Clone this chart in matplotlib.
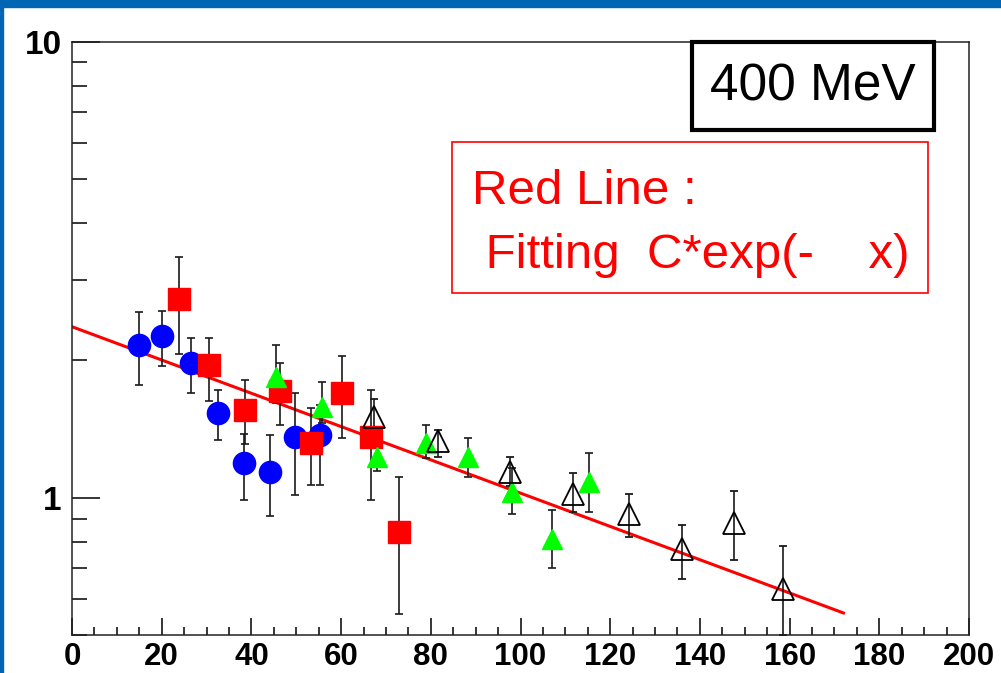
import matplotlib
matplotlib.use("Agg")
import matplotlib.pyplot as plt
import numpy as np
from matplotlib.patches import Rectangle
from matplotlib.ticker import FixedLocator, NullFormatter

plt.rcParams['font.family'] = ['Liberation Sans', 'DejaVu Sans']

# blue circles
blue_x = [15.0, 20.1, 26.5, 32.6, 38.4, 44.2, 49.7, 55.3]
blue_y = [2.16, 2.26, 1.97, 1.53, 1.19, 1.14, 1.36, 1.37]
blue_hi = [2.55, 2.56, 2.24, 1.72, 1.38, 1.37, 1.70, 1.60]
blue_lo = [1.77, 1.94, 1.70, 1.34, 0.99, 0.91, 1.015, 1.068]

# red squares
red_x = [23.9, 30.5, 38.6, 46.3, 53.4, 60.1, 66.6, 73.0]
red_y = [2.72, 1.95, 1.56, 1.71, 1.32, 1.70, 1.36, 0.84]
red_hi = [3.37, 2.24, 1.81, 1.97, 1.57, 2.04, 1.72, 1.11]
red_lo = [2.07, 1.63, 1.31, 1.44, 1.068, 1.35, 0.99, 0.556]

# green triangles
green_x = [45.4, 55.7, 67.9, 78.9, 88.4, 98.2, 107.1, 115.3]
green_y = [1.84, 1.58, 1.23, 1.32, 1.23, 1.03, 0.81, 1.08]
green_hi = [2.16, 1.79, 1.33, 1.44, 1.35, 1.16, 0.94, 1.25]
green_lo = [1.61, 1.46, 1.146, 1.22, 1.11, 0.92, 0.70, 0.93]

# open triangles
open_x = [67.4, 81.5, 97.7, 111.6, 124.1, 136.1, 147.6, 158.5]
open_y = [1.50, 1.33, 1.14, 1.02, 0.92, 0.77, 0.88, 0.63]
open_hi = [1.645, 1.41, 1.225, 1.13, 1.02, 0.87, 1.036, 0.785]
open_lo = [1.33, 1.23, 1.06, 0.93, 0.82, 0.665, 0.73, 0.50]

# fit C*exp(-a*x)
fit_C = 2.37
fit_a = 0.0084
fit_xmax = 172

x_ticks = [0, 20, 40, 60, 80, 100, 120, 140, 160, 180, 200]
y_major = [1, 10]
y_minor = [0.5, 0.6, 0.7, 0.8, 0.9, 2, 3, 4, 5, 6, 7, 8, 9]

fig = plt.figure(figsize=(10.01, 6.73), dpi=100)
fig.patch.set_facecolor('white')
ax = fig.add_axes([72 / 1001, 38 / 673, 897 / 1001, 593.5 / 673])

xf = np.linspace(0, fit_xmax, 100)
ax.plot(xf, fit_C * np.exp(-fit_a * xf), color='#ff0000', lw=2.2, zorder=1)

ekw = dict(ecolor='#1a1a1a', elinewidth=1.2, capsize=3, capthick=1.2, linestyle='none', zorder=3)


def err(y, lo, hi):
    y = np.array(y)
    return [y - np.array(lo), np.array(hi) - y]


ax.errorbar(blue_x, blue_y, yerr=err(blue_y, blue_lo, blue_hi), marker='o', ms=16,
            mfc='#0000ff', mec='#0000ff', **ekw)
ax.errorbar(red_x, red_y, yerr=err(red_y, red_lo, red_hi), marker='s', ms=16,
            mfc='#ff0000', mec='#ff0000', **ekw)
ax.errorbar(green_x, green_y, yerr=err(green_y, green_lo, green_hi), marker='^', ms=15,
            mfc='#00ff00', mec='#00ff00', **ekw)
ax.errorbar(open_x, open_y, yerr=err(open_y, open_lo, open_hi), marker='^', ms=16,
            mfc='none', mec='black', mew=1.3, **ekw)

ax.set_xlim(0, 200)
ax.set_yscale('log')
ax.set_ylim(0.5, 10)

ax.xaxis.set_major_locator(FixedLocator(x_ticks))
ax.xaxis.set_minor_locator(FixedLocator(np.arange(0, 201, 5)))
ax.set_xticklabels([str(t) for t in x_ticks])
ax.yaxis.set_major_locator(FixedLocator(y_major))
ax.yaxis.set_minor_locator(FixedLocator(y_minor))
ax.set_yticklabels([str(t) for t in y_major])
ax.yaxis.set_minor_formatter(NullFormatter())

ax.tick_params(axis='x', which='major', direction='in', length=12, width=1.1, pad=5,
               labelsize=22.5)
ax.tick_params(axis='x', which='minor', direction='in', length=6, width=1.1)
ax.tick_params(axis='y', which='major', direction='in', length=20, width=1.1, pad=7.5,
               labelsize=24)
ax.tick_params(axis='y', which='minor', direction='in', length=11, width=1.1)
for lbl in ax.get_xticklabels() + ax.get_yticklabels():
    lbl.set_fontweight('bold')
for s in ax.spines.values():
    s.set_linewidth(1.1)
    s.set_color('#222222')

# slide frame
fig.patches.append(Rectangle((0, 1 - 7 / 673), 1, 7 / 673, transform=fig.transFigure,
                             color='#0066b3', zorder=0))
fig.patches.append(Rectangle((0, 0), 3 / 1001, 1, transform=fig.transFigure,
                             color='#0066b3', zorder=0))

# 400 MeV box
fig.patches.append(Rectangle((692 / 1001, 1 - 130 / 673), 242 / 1001, 88 / 673,
                             transform=fig.transFigure, fill=False, ec='black', lw=3,
                             zorder=5))
fig.text(813 / 1001, 1 - 87 / 673, '400 MeV', fontsize=37, ha='center', va='center',
         color='black')

# red label box
fig.patches.append(Rectangle((452 / 1001, 1 - 292.5 / 673), 476 / 1001, 151 / 673,
                             transform=fig.transFigure, fill=False, ec='#ff0000', lw=1.2,
                             zorder=5))
fig.text(472 / 1001, 1 - 204 / 673, 'Red Line :', fontsize=35.5, color='#ff0000',
         ha='left', va='baseline')
fig.text(472 / 1001, 1 - 268 / 673, ' Fitting  C*exp(-    x)', fontsize=35.5,
         color='#ff0000', ha='left', va='baseline')

fig.savefig('out.png', dpi=100)
